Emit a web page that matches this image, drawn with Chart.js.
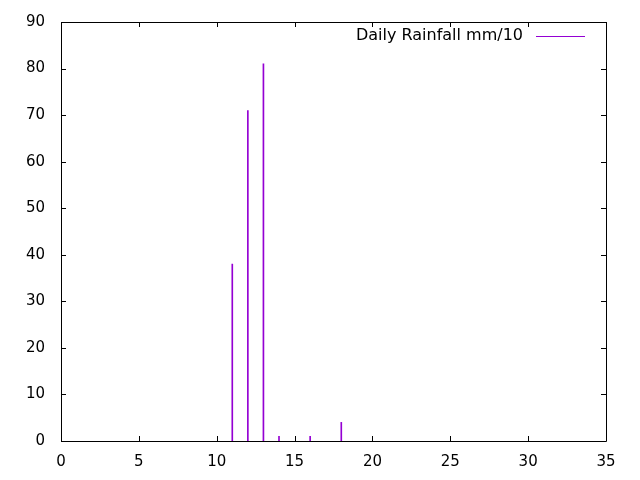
<!DOCTYPE html>
<html>
<head>
<meta charset="utf-8">
<script src="https://cdn.jsdelivr.net/npm/chart.js@4"></script>
<style>
  html, body { margin: 0; padding: 0; background: #fff; }
  #wrap { width: 640px; height: 480px; }
</style>
</head>
<body>
<div id="wrap"><canvas id="rain"></canvas></div>
<script>
// ---- data ----
const days = [11, 12, 13, 14, 16, 18];
const rainfall = [38, 71, 81, 1, 1, 4];
const xTicks = [0, 5, 10, 15, 20, 25, 30, 35];
const yTicks = [0, 10, 20, 30, 40, 50, 60, 70, 80, 90];
const seriesLabel = 'Daily Rainfall mm/10';

const PURPLE = '#9400d3';
const FONT = "'DejaVu Sans', sans-serif";

// gnuplot style frame: box round the plot, ticks pointing inward on all four sides
const framePlugin = {
    id: 'frame',
    afterDatasetsDraw(chart) {
        const { ctx, chartArea: a, scales } = chart;
        const L = Math.round(a.left), R = Math.round(a.right);
        const T = Math.round(a.top), B = Math.round(a.bottom);
        const len = 5;
        ctx.save();
        ctx.strokeStyle = '#000';
        ctx.lineWidth = 1;
        ctx.beginPath();
        ctx.rect(L + 0.5, T + 0.5, R - L, B - T);
        ctx.stroke();
        ctx.beginPath();
        xTicks.forEach(v => {
            const px = Math.round(scales.x.getPixelForValue(v)) + 0.5;
            ctx.moveTo(px, B); ctx.lineTo(px, B - len);
            ctx.moveTo(px, T); ctx.lineTo(px, T + len);
        });
        yTicks.forEach(v => {
            const py = Math.round(scales.y.getPixelForValue(v)) + 0.5;
            ctx.moveTo(L, py); ctx.lineTo(L + len, py);
            ctx.moveTo(R, py); ctx.lineTo(R - len, py);
        });
        ctx.stroke();

        // legend, top right inside the frame
        ctx.font = '16px ' + FONT;
        ctx.fillStyle = '#000';
        ctx.textAlign = 'right';
        ctx.textBaseline = 'middle';
        const ly = T + 14;
        ctx.fillText(seriesLabel, R - 83, ly);
        ctx.strokeStyle = PURPLE;
        ctx.beginPath();
        ctx.moveTo(R - 70, ly + 0.5);
        ctx.lineTo(R - 21, ly + 0.5);
        ctx.stroke();
        ctx.restore();
    }
};

new Chart(document.getElementById('rain').getContext('2d'), {
    type: 'bar',
    data: {
        datasets: [{
            label: seriesLabel,
            data: days.map((d, i) => ({ x: d, y: rainfall[i] })),
            backgroundColor: PURPLE,
            borderWidth: 0,
            barThickness: 1
        }]
    },
    options: {
        responsive: true,
        maintainAspectRatio: false,
        animation: false,
        layout: { padding: { top: 22, right: 34, left: 0, bottom: 0 } },
        plugins: {
            legend: { display: false },
            tooltip: { enabled: false }
        },
        scales: {
            x: {
                type: 'linear',
                min: 0,
                max: 35,
                offset: false,
                afterBuildTicks: s => { s.ticks = xTicks.map(v => ({ value: v })); },
                afterFit: s => { s.height = 39; s.paddingLeft = 0; s.paddingRight = 0; },
                grid: { display: false, drawTicks: false },
                border: { display: false },
                ticks: { color: '#000', padding: 12, font: { family: FONT, size: 15 } }
            },
            y: {
                min: 0,
                max: 90,
                afterBuildTicks: s => { s.ticks = yTicks.map(v => ({ value: v })); },
                afterFit: s => { s.width = 61; s.paddingTop = 0; s.paddingBottom = 0; },
                grid: { display: false, drawTicks: false },
                border: { display: false },
                ticks: { color: '#000', padding: 16, font: { family: FONT, size: 15 } }
            }
        }
    },
    plugins: [framePlugin]
});
</script>
</body>
</html>
